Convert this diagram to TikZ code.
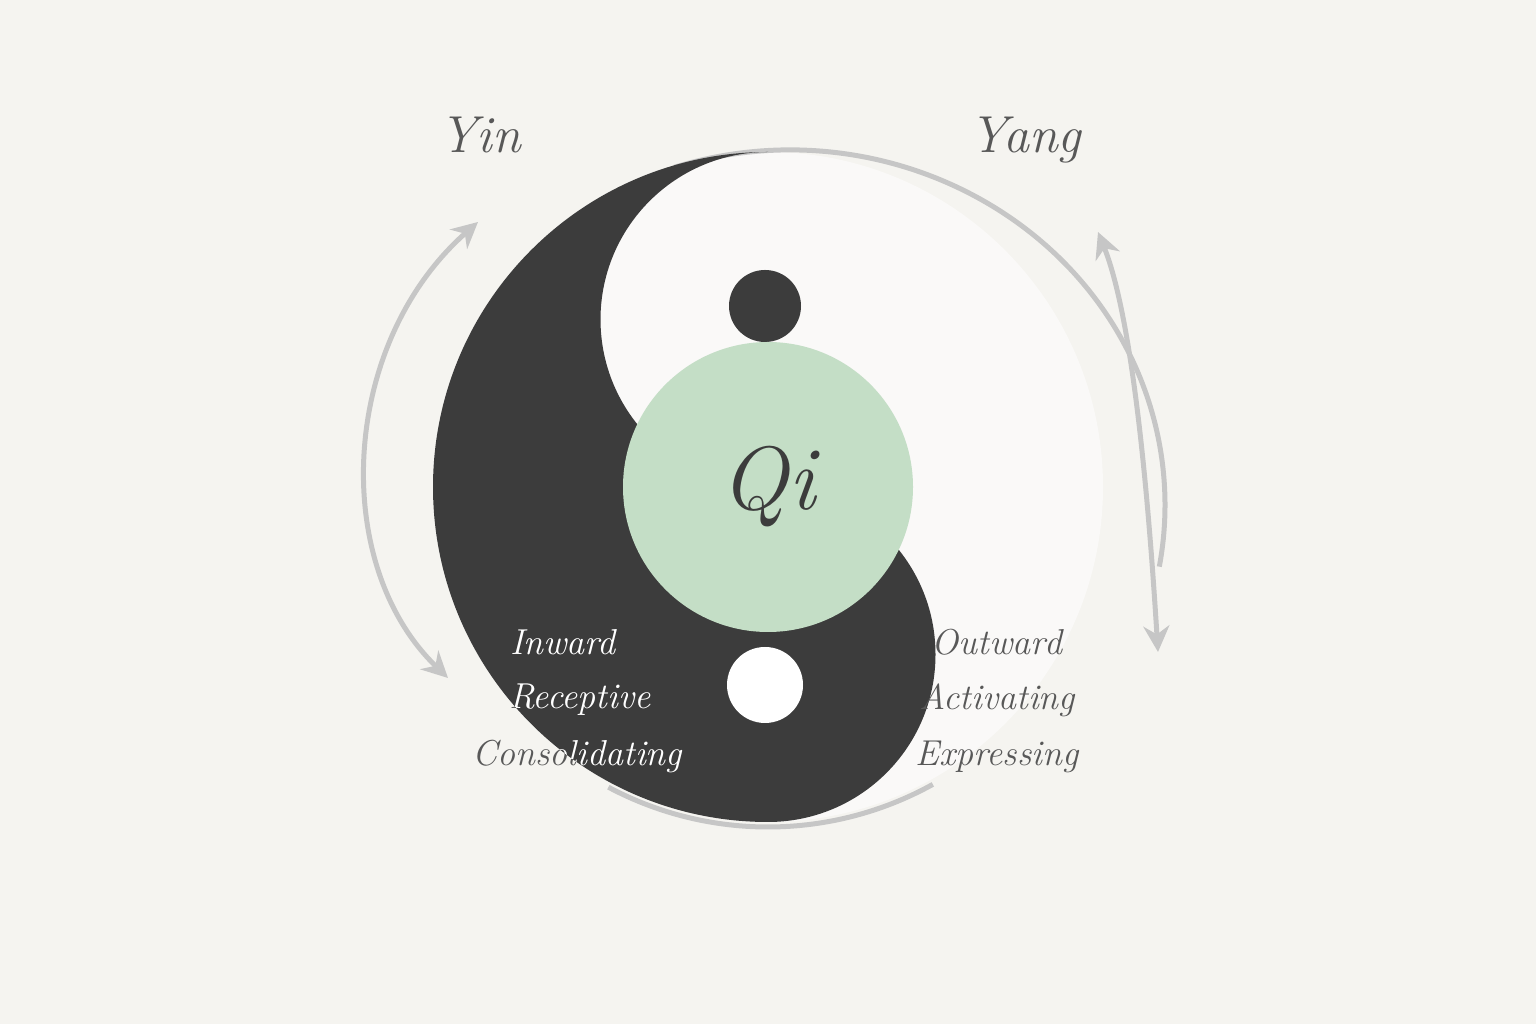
\documentclass[tikz,border=0pt]{standalone}
\usetikzlibrary{arrows.meta}
\definecolor{bg}{HTML}{F5F4F0}
\definecolor{ink}{HTML}{3C3C3C}
\definecolor{ring}{HTML}{C6C6C6}
\definecolor{qi}{HTML}{C4DEC6}
\definecolor{txt}{HTML}{585858}
\tikzset{
  ringline/.style={draw=ring,line width=5pt},
  dbl/.style={ringline,{Stealth[length=26pt,width=26pt]}-{Stealth[length=26pt,width=26pt]}},
  lab/.style={font=\fontsize{36}{40}\selectfont\itshape,text=txt},
  title/.style={font=\fontsize{52}{56}\selectfont\itshape,text=txt}
}
\begin{document}
\begin{tikzpicture}[x=1pt,y=1pt]
\fill[bg] (0,0) rectangle (1536,1024);
\useasboundingbox (0,0) rectangle (1536,1024);
% white disc (soft)
\fill[white!50!bg] (768,537) circle[radius=335];
% rings
\draw[ringline] (768,537) ++(-118:340) arc[start angle=-118,end angle=-61,radius=340];
\draw[ringline] (790,519) ++(108:375 and 355) arc[start angle=108,end angle=-10,x radius=375,y radius=355];
% yin shape
\path[fill=ink] (768,872) arc[start angle=90,end angle=270,radius=335]
  arc[start angle=270,end angle=450,radius=167.5]
  arc[start angle=270,end angle=90,radius=167.5] -- cycle;
\node[circle,fill=ink,minimum size=72pt,inner sep=0] (bdot) at (765,718) {};
\node[circle,fill=white,minimum size=76pt,inner sep=0] (wdot) at (765,339) {};
\node[circle,fill=qi,minimum size=290pt,inner sep=0,text=ink,font=\fontsize{90}{90}\selectfont\itshape] (qi) at (768,537) {Qi};
% arrows
\draw[dbl] (448,346) .. controls (330,460) and (340,680) .. (478,802);
\draw[dbl] (1098,792) .. controls (1135,700) and (1150,500) .. (1158,372);
% titles
\node[title] (yin) at (480,889) {Yin};
\node[title] (yang) at (1025,884) {Yang};
% labels left (white over dark)
\node[lab] (inw) at (563,382) {Inward};
\node[lab] (rec) at (580,324) {Receptive};
\node[lab] (con) at (577,267) {Consolidating};
\begin{scope}
\clip (768,872) arc[start angle=90,end angle=270,radius=335]
  arc[start angle=270,end angle=450,radius=167.5]
  arc[start angle=270,end angle=90,radius=167.5] -- cycle;
\node[lab,text=white] at (563,382) {Inward};
\node[lab,text=white] at (580,324) {Receptive};
\node[lab,text=white] at (577,267) {Consolidating};
\end{scope}
\node[lab] (outw) at (997,382) {Outward};
\node[lab] (act) at (997,324) {Activating};
\node[lab] (exp) at (997,267) {Expressing};
\end{tikzpicture}
\end{document}
